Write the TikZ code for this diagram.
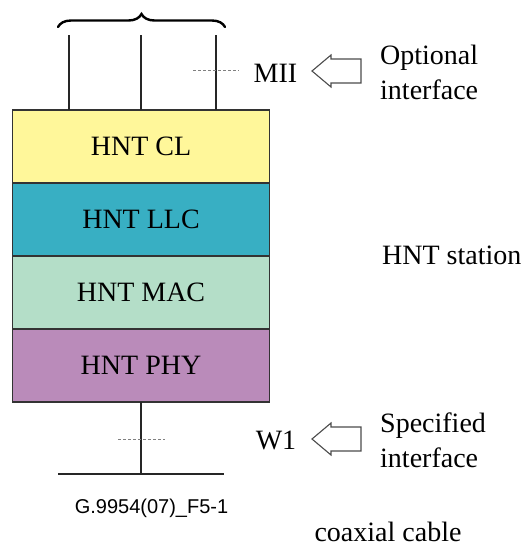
\documentclass[tikz,border=0pt]{standalone}
\usepackage{fontspec}
\setmainfont{Liberation Serif}
\newfontfamily\figsans{Liberation Sans}
\usetikzlibrary{positioning,decorations.pathreplacing}

\definecolor{clyellow}{HTML}{FFF79A}
\definecolor{llcteal}{HTML}{38AFC3}
\definecolor{macgreen}{HTML}{B4DEC8}
\definecolor{phyviolet}{HTML}{BA8BBA}

\tikzset{
	layer/.style={draw=black!80,line width=1.2pt,rectangle,minimum width=257pt,minimum height=73pt,inner sep=0pt,outer sep=0pt,font=\fontsize{28}{34}\selectfont},
	lbl/.style={font=\fontsize{28}{35}\selectfont,inner sep=0pt},
	wire/.style={line width=1.2pt,black!85},
	refline/.style={densely dashed,gray,line width=0.8pt},
	hollow/.style={draw=black!70,line width=1.1pt,fill=white}
}

\begin{document}
\begin{tikzpicture}[x=1pt,y=-1pt]
	\useasboundingbox (0,0) rectangle (525,547);

	\node[layer,fill=clyellow] (cl) at (141,146.5) {HNT CL};
	\node[layer,fill=llcteal,below=0pt of cl] (llc) {HNT LLC};
	\node[layer,fill=macgreen,below=0pt of llc] (mac) {HNT MAC};
	\node[layer,fill=phyviolet,below=0pt of mac] (phy) {HNT PHY};

	% upper side
	\coordinate (in1) at (69,35);
	\coordinate (in2) at (141,35);
	\coordinate (in3) at (216,35);
	\draw[wire] (in1) -- (in1 |- cl.north);
	\draw[wire] (in2) -- (in2 |- cl.north);
	\draw[wire] (in3) -- (in3 |- cl.north);
	\draw[line width=2.4pt,line cap=round,decorate,decoration={brace,amplitude=13pt}] (58,27) -- (225,27);

	% lower side
	\coordinate (cabl) at (58,474);
	\coordinate (cabr) at (224,474);
	\draw[wire] (phy.south) -- (phy.south |- cabl);
	\draw[wire] (cabl) -- (cabr);

	\draw[refline] (193,70) -- (239,70);
	\draw[refline] (118,439) -- (165,439);

	\node[lbl] (mii) at (275.5,73) {MII};
	\node[lbl] (w1) at (276,440) {W1};

	\foreach \y in {71,439}
		\draw[hollow] (312,\y) -- ++(19,-16) -- ++(0,4) -- ++(30,0) -- ++(0,24) -- ++(-30,0) -- ++(0,4) -- cycle;

	\node[lbl,anchor=west,align=left] (opt) at (380,72.5) {Optional\\interface};
	\node[lbl,anchor=west,align=left] (spec) at (380,440) {Specified\\interface};
	\node[lbl,anchor=west] (stn) at (382,255) {HNT station};
	\node[lbl] (coax) at (388,532) {coaxial cable};
	\node[font=\figsans\fontsize{20}{24}\selectfont,inner sep=0pt] (fig) at (151.5,508) {G.9954(07)\_F5-1};
\end{tikzpicture}
\end{document}
